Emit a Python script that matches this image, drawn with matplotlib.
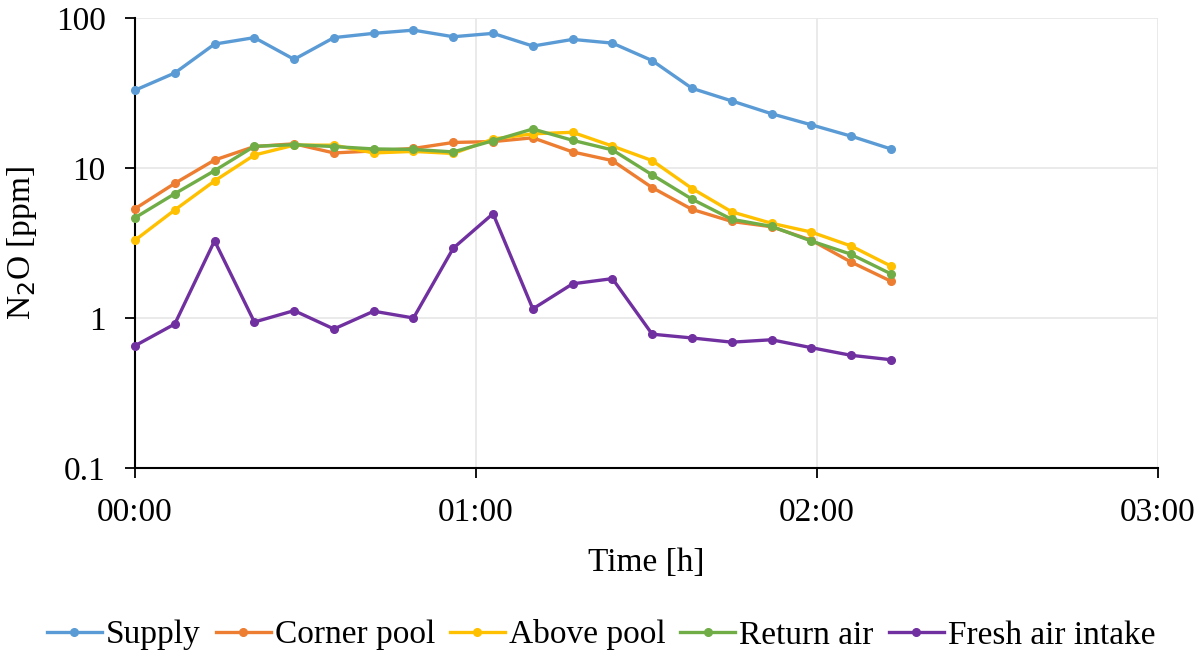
import matplotlib
matplotlib.use("Agg")
import matplotlib.pyplot as plt
from matplotlib.ticker import NullLocator

plt.rcParams['font.family'] = ['Liberation Serif', 'DejaVu Serif']

# Time in minutes from start
time_min = [0, 7, 14, 21, 28, 35, 42, 49, 56, 63, 70, 77, 84, 91, 98, 105, 112, 119, 126, 133]

supply = [33, 43, 67, 74, 53, 74, 79, 83, 75, 79, 65, 72, 68, 52, 34, 28, 23, 19.4, 16.3, 13.4]
corner_pool = [5.35, 7.9, 11.3, 13.9, 14.5, 12.6, 13.0, 13.5, 14.8, 15.0, 15.9, 12.8, 11.2, 7.4, 5.3, 4.4, 4.06, 3.3, 2.36, 1.76]
above_pool = [3.3, 5.25, 8.2, 12.2, 14.2, 14.2, 12.6, 12.9, 12.5, 15.6, 16.9, 17.3, 14.0, 11.2, 7.3, 5.1, 4.28, 3.74, 3.02, 2.22]
return_air = [4.66, 6.74, 9.6, 13.95, 14.3, 13.9, 13.4, 13.3, 12.8, 15.2, 18.2, 15.3, 13.2, 9.0, 6.2, 4.55, 4.08, 3.26, 2.66, 1.97]
fresh_air = [0.653, 0.912, 3.27, 0.94, 1.12, 0.845, 1.11, 1.0, 2.92, 4.96, 1.15, 1.69, 1.83, 0.78, 0.736, 0.69, 0.716, 0.634, 0.564, 0.527]

series_names = ["Supply", "Corner pool", "Above pool", "Return air", "Fresh air intake"]
series_values = [supply, corner_pool, above_pool, return_air, fresh_air]
colors = ["#5B9BD5", "#ED7D31", "#FFC000", "#70AD47", "#7030A0"]

x_ticks = [0, 60, 120, 180]
x_labels = ["00:00", "01:00", "02:00", "03:00"]
y_ticks = [0.1, 1, 10, 100]
y_labels = ["0.1", "1", "10", "100"]

fig = plt.figure(figsize=(12.02, 6.53), dpi=100)
ax = fig.add_axes([135/1202, 1-468/653, (1158-135)/1202, (468-18)/653])

for name, vals, c in zip(series_names, series_values, colors):
    ax.plot(time_min, vals, color=c, lw=2.4, marker='o', ms=5.5, label=name,
            clip_on=False, zorder=3)

ax.set_yscale('log')
ax.set_ylim(0.1, 100)
ax.set_xlim(0, 180)
ax.set_yticks(y_ticks, labels=y_labels)
ax.yaxis.set_minor_locator(NullLocator())
ax.set_xticks(x_ticks, labels=x_labels)

ax.grid(True, which='major', color='#E8E8E8', lw=1.3, zorder=0)
ax.set_axisbelow(True)
for s in ['top', 'right']:
    ax.spines[s].set_visible(False)
for s in ['left', 'bottom']:
    ax.spines[s].set_linewidth(1.5)
    ax.spines[s].set_color('black')

ax.tick_params(axis='both', which='major', length=7, width=1.3, direction='out',
               labelsize=24, color='black')
ax.tick_params(axis='y', pad=14)
ax.tick_params(axis='x', pad=14)

ax.set_xlabel("Time [h]", fontsize=24, labelpad=14)
ax.set_ylabel("N$_2$O [ppm]", fontsize=24, labelpad=12)

fig.legend(loc='center', bbox_to_anchor=(0.5, 1-635/653), ncol=5, frameon=False,
           fontsize=24, handlelength=1.65, handletextpad=0.12, columnspacing=0.45)

fig.savefig("out.png", dpi=100)
